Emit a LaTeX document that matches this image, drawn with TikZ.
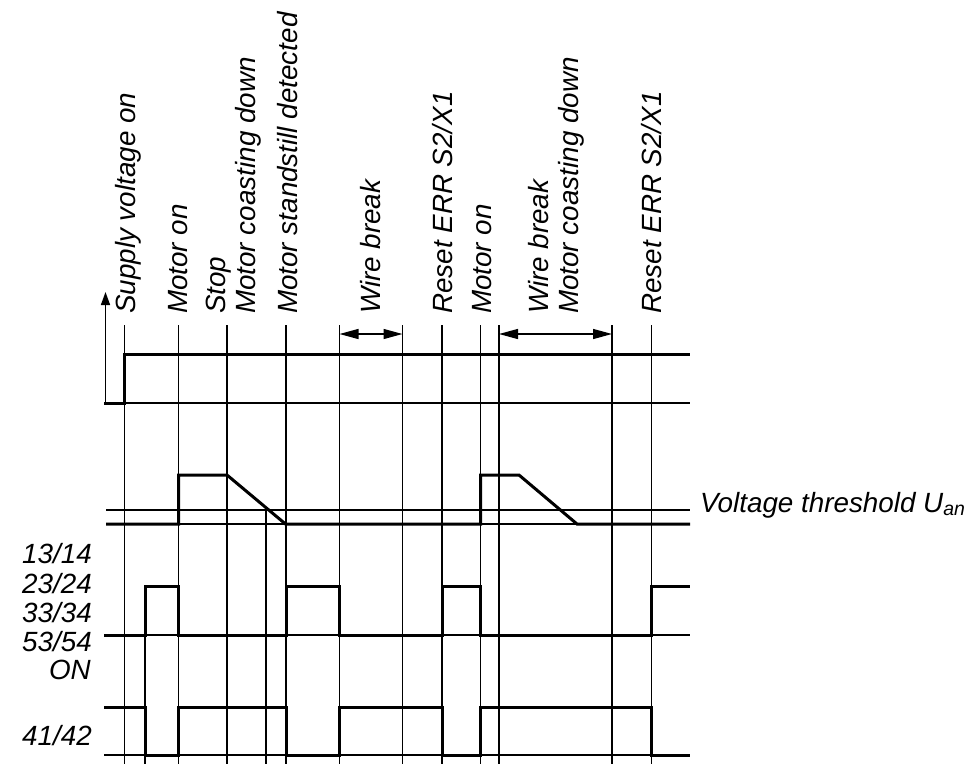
\documentclass[tikz,border=0pt]{standalone}
\usepackage{fontspec}
\setmainfont{Liberation Sans}
\usetikzlibrary{arrows.meta}
\begin{document}
\begin{tikzpicture}[x=1pt,y=-1pt,
  grid/.style={line width=1.3pt},
  sig/.style={line width=3pt, line join=miter},
  lbl/.style={font=\fontsize{27.8}{30}\selectfont\itshape, inner sep=0pt},
  vlbl/.style={lbl, rotate=90, anchor=base west},
  llbl/.style={lbl, anchor=base east},
  dimarrow/.style={line width=1.3pt, {Triangle[length=19pt,width=10pt]}-{Triangle[length=19pt,width=10pt]}},
  axisarrow/.style={line width=1.5pt, -{Triangle[length=13pt,width=9pt]}}]
\useasboundingbox (0,0) rectangle (972,764);
% vertical event lines
\foreach \x in {124.5,178.5,227,286,339.5,402.5,442,480.5,499,612,651.5}
  \draw[grid] (\x,325) -- (\x,764);
\draw[grid] (145,586) -- (145,764);
\draw[grid] (266,510) -- (266,764);
% supply voltage
\coordinate (ax0) at (105.5,403);
\coordinate (ax1) at (105.5,292);
\draw[axisarrow] (ax0) -- (ax1);
\draw[grid] (124.5,403) -- (690,403);
\draw[sig] (104,403) -- (124.5,403) -- (124.5,354) -- (690,354);
% motor voltage
\draw[grid] (106,510) -- (690,510);
\draw[grid] (106,524) -- (690,524);
\draw[sig] (106,524) -- (178.5,524) -- (178.5,475) -- (227,475) -- (285.5,524)
  -- (480.5,524) -- (480.5,475) -- (519,475) -- (577,524) -- (690,524);
% 13/14 ... outputs
\draw[grid] (104,635) -- (690,635);
\draw[sig] (104,635) -- (145,635) -- (145,586) -- (178.5,586) -- (178.5,635)
  -- (286,635) -- (286,586) -- (339.5,586) -- (339.5,635)
  -- (442,635) -- (442,586) -- (480.5,586) -- (480.5,635)
  -- (651.5,635) -- (651.5,586) -- (690,586);
% 41/42
\draw[grid] (104,755) -- (690,755);
\draw[sig] (104,707) -- (145,707) -- (145,755) -- (178.5,755) -- (178.5,707)
  -- (286,707) -- (286,755) -- (339.5,755) -- (339.5,707)
  -- (442,707) -- (442,755) -- (480.5,755) -- (480.5,707)
  -- (651.5,707) -- (651.5,755) -- (690,755);
% wire break arrows
\coordinate (wb1a) at (339.5,334);
\coordinate (wb1b) at (402.5,334);
\coordinate (wb2a) at (499,334);
\coordinate (wb2b) at (612,334);
\draw[dimarrow] (wb1a) -- (wb1b);
\draw[dimarrow] (wb2a) -- (wb2b);
% event labels
\node[vlbl] (l1) at (135,314) {Supply voltage on};
\node[vlbl] (l2) at (187,314) {Motor on};
\node[vlbl] (l3) at (225,314) {Stop};
\node[vlbl] (l4) at (255,314) {Motor coasting down};
\node[vlbl] (l5) at (297,314) {Motor standstill detected};
\node[vlbl] (l6) at (380,314) {Wire break};
\node[vlbl] (l7) at (452,314) {Reset ERR S2/X1};
\node[vlbl] (l8) at (491,314) {Motor on};
\node[vlbl] (l9) at (548,314) {Wire break};
\node[vlbl] (l10) at (578,314) {Motor coasting down};
\node[vlbl] (l11) at (661,314) {Reset ERR S2/X1};
% signal labels
\node[llbl] (s1) at (92,563) {13/14};
\node[llbl] (s2) at (92,593) {23/24};
\node[llbl] (s3) at (92,622) {33/34};
\node[llbl] (s4) at (92,651) {53/54};
\node[llbl] (s5) at (91,679) {ON};
\node[llbl] (s6) at (92,745) {41/42};
\node[lbl, anchor=base west] (vt) at (700,512) {Voltage threshold U\textsubscript{an}};
\end{tikzpicture}
\end{document}
